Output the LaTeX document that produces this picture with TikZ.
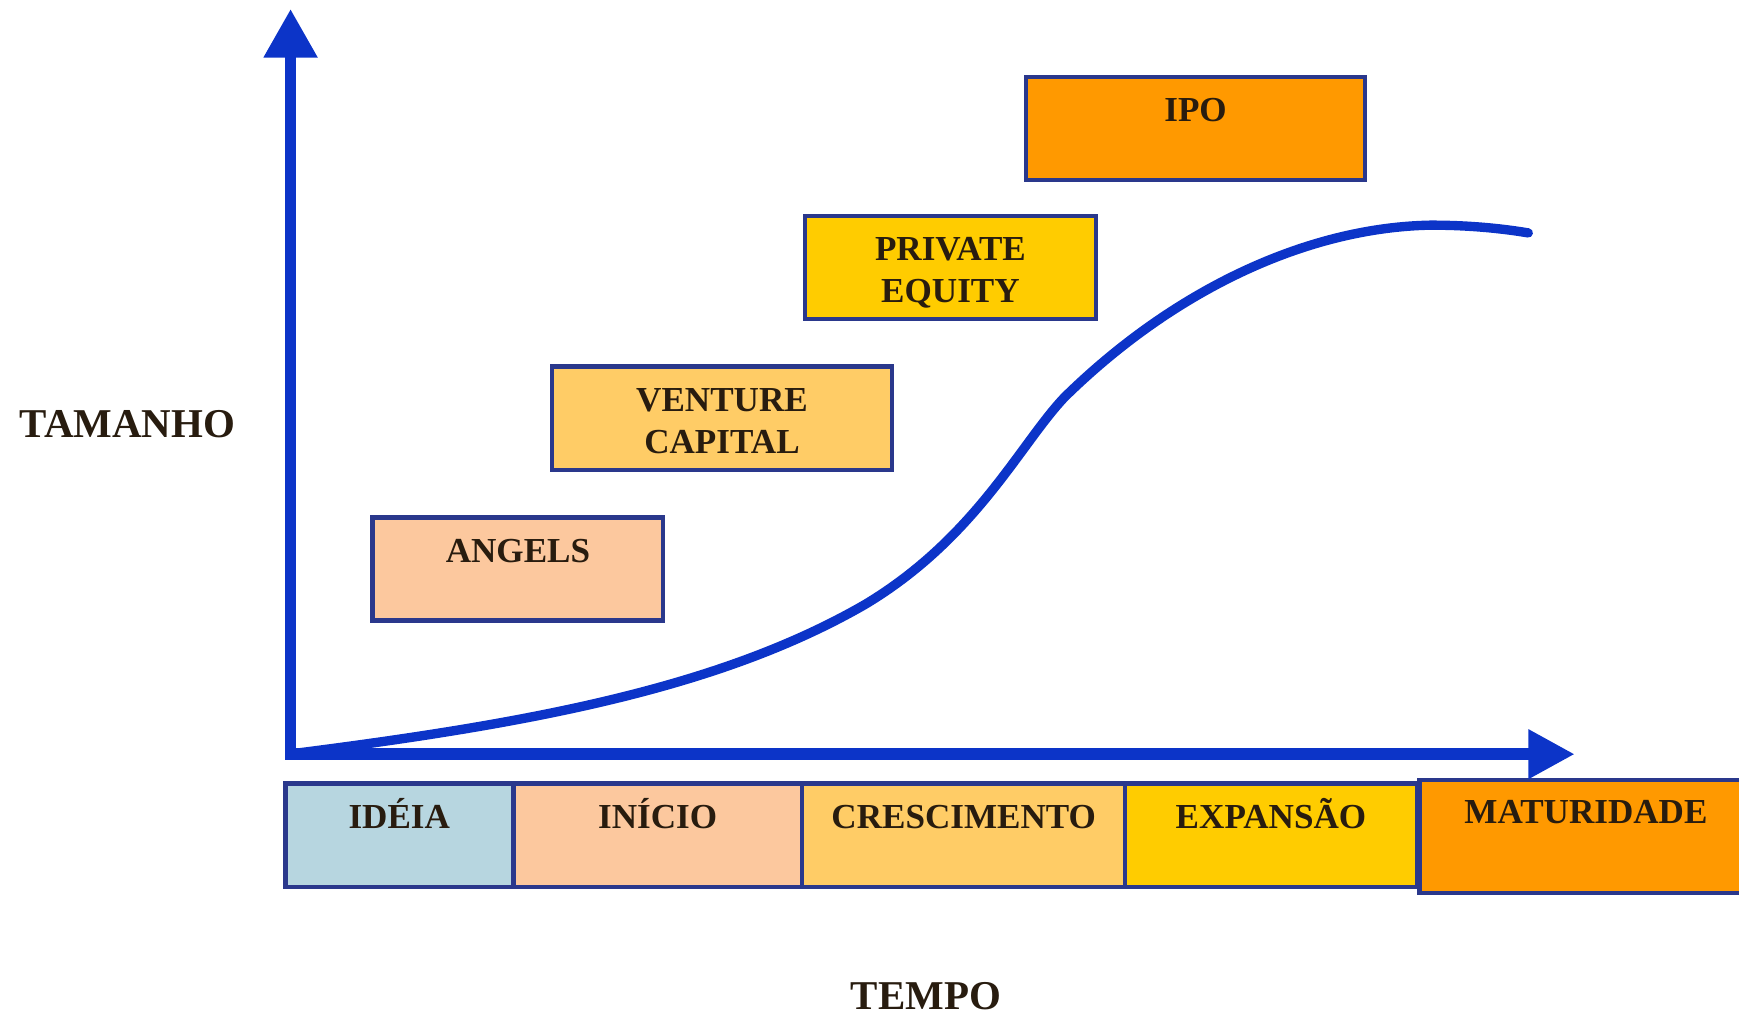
\documentclass[tikz,border=0pt]{standalone}
\usepackage{fontspec}
\setmainfont{Liberation Serif}
\usepackage{tikz}
\usetikzlibrary{positioning, arrows.meta}
\definecolor{axisblue}{RGB}{12,52,200}
\definecolor{edgeblue}{RGB}{42,56,140}
\definecolor{cideia}{RGB}{183,214,224}
\definecolor{cpeach}{RGB}{252,200,158}
\definecolor{clight}{RGB}{255,204,102}
\definecolor{cgold}{RGB}{255,204,0}
\definecolor{corange}{RGB}{255,153,0}
\definecolor{ink}{RGB}{40,28,15}
\tikzstyle{stage} = [rectangle, draw=edgeblue, line width=1.1pt, minimum height=0.93cm, inner sep=0pt]
\tikzstyle{tagtwo} = [text=ink, font=\fontsize{9}{10.8}\selectfont\bfseries, align=center]
\tikzstyle{tag} = [tagtwo, text height=0.21cm, text depth=0pt]
\tikzstyle{axlabel} = [text=ink, font=\fontsize{10.5}{12}\selectfont\bfseries]
\tikzstyle{axisline} = [draw=axisblue, line width=3pt, {Triangle[width=0.46cm,length=0.44cm]}-{Triangle[width=0.42cm,length=0.42cm]}]
\tikzstyle{sizecurve} = [draw=axisblue, line width=2.4pt, line cap=round]

\begin{document}
\begin{tikzpicture}[x=0.01cm, y=-0.01cm]
        \useasboundingbox (0,0) rectangle (1568,914);
        % eixos
        \coordinate (orig) at (262,680);
        \coordinate (ytip) at (262,8);
        \coordinate (xtip) at (1420,680);
        \node[axlabel] (tamanho) at (115,382) {TAMANHO};
        \node[axlabel] (tempo) at (835,898) {TEMPO};

        % fontes de recursos
        \node[stage, fill=cpeach, minimum width=2.62cm] (angels) at (467,513) {};
        \node[tag, below=0.09cm of angels.north] (angelsT) {ANGELS};
        \node[stage, fill=clight, minimum width=3.07cm] (venture) at (651,377) {};
        \node[tagtwo, below=0.09cm of venture.north] (ventureT) {VENTURE\\CAPITAL};
        \node[stage, fill=cgold, minimum width=2.62cm] (private) at (857,241) {};
        \node[tagtwo, below=0.09cm of private.north] (privateT) {PRIVATE\\EQUITY};
        \node[stage, fill=corange, minimum width=3.05cm] (ipo) at (1078,116) {};
        \node[tag, below=0.09cm of ipo.north] (ipoT) {IPO};

        % fases
        \node[stage, fill=cideia, minimum width=2.05cm] (ideia) at (360,753) {};
        \node[tag, below=0.09cm of ideia.north] (ideiaT) {IDÉIA};
        \node[stage, fill=cpeach, minimum width=2.60cm] (inicio) at (593,753) {};
        \node[tag, below=0.09cm of inicio.north] (inicioT) {INÍCIO};
        \node[stage, fill=clight, minimum width=2.92cm] (cresc) at (869,753) {};
        \node[tag, below=0.09cm of cresc.north] (crescT) {CRESCIMENTO};
        \node[stage, fill=cgold, minimum width=2.63cm] (expan) at (1146,753) {};
        \node[tag, below=0.09cm of expan.north] (expanT) {EXPANSÃO};
        \node[stage, fill=corange, minimum width=3.00cm, minimum height=1.02cm] (matur) at (1430,754) {};
        \node[tag, below=0.08cm of matur.north] (maturT) {MATURIDADE};

        \draw[axisline] (ytip) -- (orig) -- (xtip);
        \draw[sizecurve] (268,679) .. controls (480,652) and (650,620) .. (780,545)
            .. controls (880,485) and (920,400) .. (960,358)
            .. controls (1060,260) and (1180,205) .. (1290,203)
            .. controls (1330,203) and (1360,207) .. (1378,210);
    \end{tikzpicture}
\end{document}
